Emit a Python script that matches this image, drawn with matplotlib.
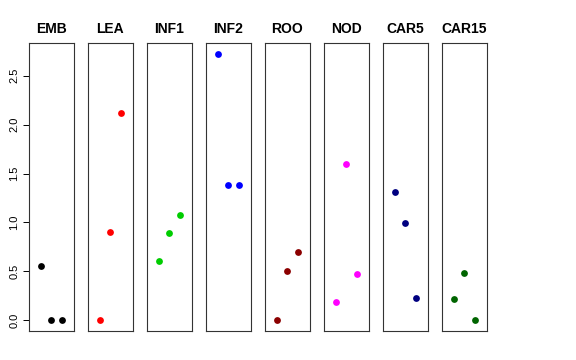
import matplotlib
matplotlib.use("Agg")
import matplotlib.pyplot as plt

plt.rcParams["font.family"] = ["Liberation Sans", "DejaVu Sans"]

# panel names, colours and values (three points per panel)
groups = ["EMB", "LEA", "INF1", "INF2", "ROO", "NOD", "CAR5", "CAR15"]
colors = ["black", "red", "#00CD00", "blue", "#8B0000", "magenta", "#000080", "#006400"]
x_pos = [1, 2, 3]
EMB = [0.55, 0.0, 0.0]
LEA = [0.0, 0.90, 2.12]
INF1 = [0.61, 0.89, 1.08]
INF2 = [2.72, 1.38, 1.38]
ROO = [0.0, 0.50, 0.70]
NOD = [0.19, 1.60, 0.47]
CAR5 = [1.31, 0.99, 0.23]
CAR15 = [0.22, 0.48, 0.0]
values = [EMB, LEA, INF1, INF2, ROO, NOD, CAR5, CAR15]

y_ticks = [0.0, 0.5, 1.0, 1.5, 2.0, 2.5]
y_min, y_max = -0.11, 2.835

W, H = 576, 360
fig = plt.figure(figsize=(W / 100, H / 100), dpi=100)

left0, pitch, width = 29, 59, 44.5
top, bottom = 43, 331

for i, (name, col, vals) in enumerate(zip(groups, colors, values)):
    x0 = left0 + i * pitch
    ax = fig.add_axes([x0 / W, 1 - bottom / H, width / W, (bottom - top) / H])
    ax.scatter(x_pos, vals, s=24, color=col, zorder=3, linewidths=0)
    ax.set_xlim(-0.16, 4.16)
    ax.set_ylim(y_min, y_max)
    ax.set_xticks([])
    ax.set_title(name, fontsize=10, fontweight="bold", pad=7)
    for sp in ax.spines.values():
        sp.set_linewidth(0.8)
        sp.set_color("#333333")
    if i == 0:
        ax.set_yticks(y_ticks)
        ax.set_yticklabels([f"{t:.1f}" for t in y_ticks], rotation=90, va="center", fontsize=8)
        ax.tick_params(axis="y", length=4, width=0.7, pad=3)
    else:
        ax.set_yticks([])

fig.savefig("out.png", dpi=100)
